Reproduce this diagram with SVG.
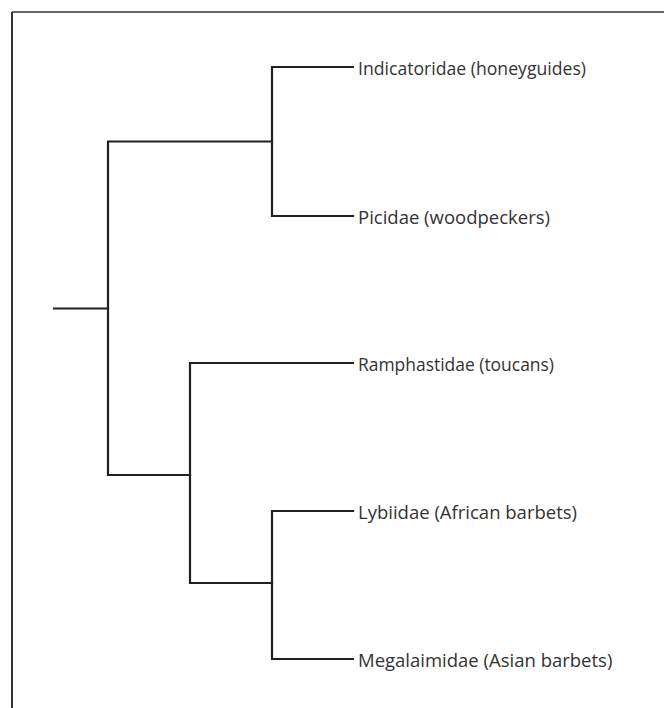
<svg xmlns="http://www.w3.org/2000/svg" width="664" height="708" viewBox="0 0 664 708">
<style>
.frame{fill:none;stroke-width:2}
.edge{fill:none;stroke:#231f20;stroke-width:2.2;stroke-linecap:square;stroke-linejoin:miter}
.lbl{font-family:"Open Sans","Noto Sans",sans-serif;font-size:18.5px;fill:#333}
</style>
<rect width="664" height="708" fill="#fff"/>
<line class="frame" x1="12" y1="12" x2="664" y2="12" stroke="#666"/>
<line class="frame" x1="12" y1="12" x2="12" y2="708" stroke="#333"/>
<g id="connectors">
<path class="edge" d="M54 308.5H108"/>
<path class="edge" d="M272 141.5H108V475H190"/>
<path class="edge" d="M353 67H272V216H353"/>
<path class="edge" d="M353 363H190V583H272"/>
<path class="edge" d="M353 511H272V659H353"/>
</g>
<g id="indicatoridae"><text class="lbl" x="358" y="74.5" textLength="228" lengthAdjust="spacingAndGlyphs">Indicatoridae (honeyguides)</text></g>
<g id="picidae"><text class="lbl" x="358" y="223.5">Picidae (woodpeckers)</text></g>
<g id="ramphastidae"><text class="lbl" x="358" y="370.5" textLength="196" lengthAdjust="spacingAndGlyphs">Ramphastidae (toucans)</text></g>
<g id="lybiidae"><text class="lbl" x="358" y="518.5">Lybiidae (African barbets)</text></g>
<g id="megalaimidae"><text class="lbl" x="358" y="666.5">Megalaimidae (Asian barbets)</text></g>
</svg>
